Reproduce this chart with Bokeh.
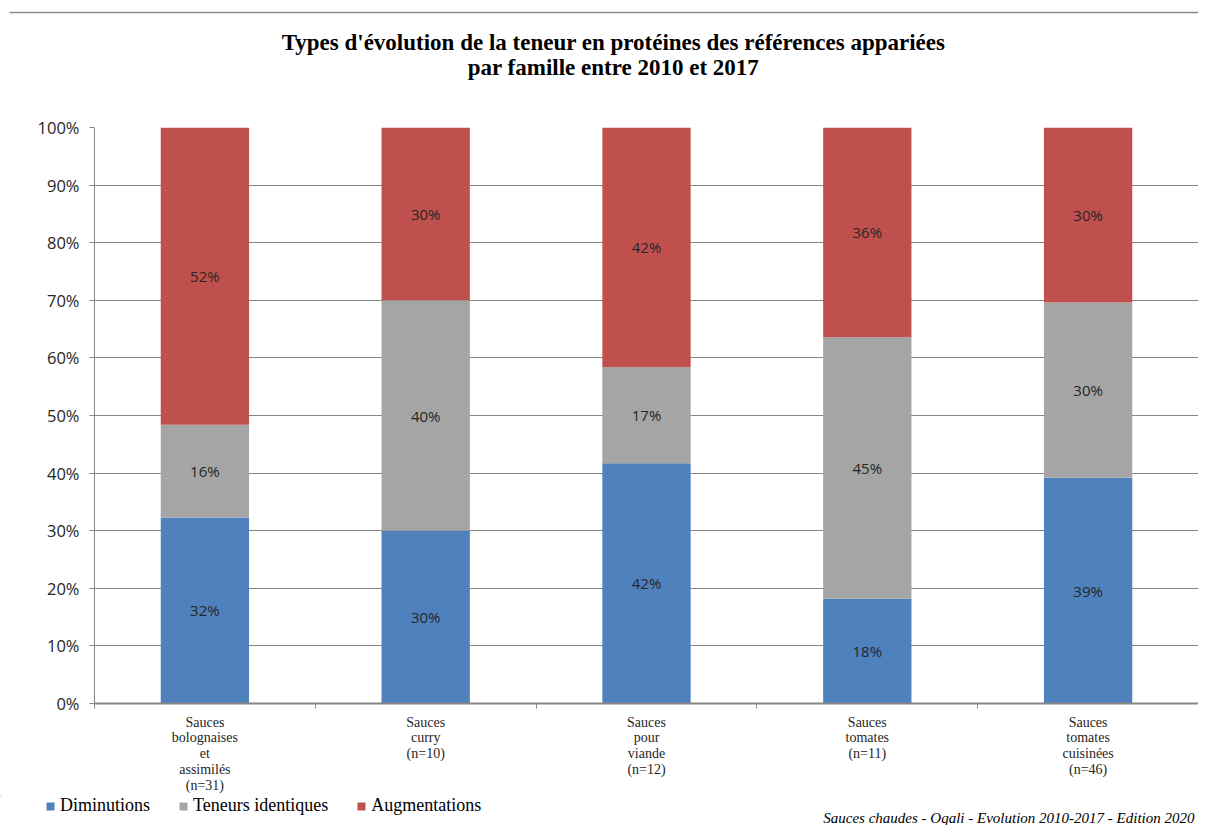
from bokeh.plotting import figure
from bokeh.models import (ColumnDataSource, FixedTicker, PrintfTickFormatter, Legend,
                          LegendItem, Label, Range1d)
from bokeh.layouts import column
from bokeh.core.properties import value
from bokeh.embed import file_html
from bokeh.resources import INLINE

# ---- data ----
categories = [
    "Sauces\nbolognaises\net\nassimilés\n(n=31)",
    "Sauces\ncurry\n(n=10)",
    "Sauces\npour\nviande\n(n=12)",
    "Sauces\ntomates\n(n=11)",
    "Sauces\ntomates\ncuisinées\n(n=46)",
]
diminutions = [32.3, 30.0, 41.7, 18.2, 39.2]
identiques = [16.1, 40.0, 16.7, 45.4, 30.4]
augmentations = [51.6, 30.0, 41.6, 36.4, 30.4]
series_names = ["Diminutions", "Teneurs identiques", "Augmentations"]
colors = ["#4F81BD", "#A5A5A5", "#C0504D"]
y_ticks = [0, 10, 20, 30, 40, 50, 60, 70, 80, 90, 100]
title_lines = ["Types d'évolution de la teneur en protéines des références appariées",
               "par famille entre 2010 et 2017"]
footer_text = "Sauces chaudes - Oqali - Evolution 2010-2017 - Edition 2020"

W = 1198
grey = "#868686"


def blank_fig(h):
    f = figure(width=W, height=h, output_backend="svg", toolbar_location=None,
               x_range=Range1d(0, W), y_range=Range1d(h, 0),
               min_border=0, min_border_left=0, min_border_right=0,
               min_border_top=0, min_border_bottom=0, frame_align=False)
    f.axis.visible = False
    f.grid.grid_line_color = None
    f.outline_line_color = None
    f.background_fill_color = "white"
    f.border_fill_color = "white"
    return f


# ---- header (title) ----
header = blank_fig(110)
header.segment(x0=[9], y0=[12], x1=[W], y1=[12], line_color="#8c8c8c", line_width=1.5)
for i, line in enumerate(title_lines):
    header.add_layout(Label(x=613, y=42 + 25 * i, text=line, text_align="center",
                            text_baseline="middle", text_font="Liberation Serif",
                            text_font_style="bold", text_font_size="23px",
                            text_color="#000000"))

# ---- main chart ----
xs = list(range(1, len(categories) + 1))
src = ColumnDataSource(dict(x=xs, dim=diminutions, ten=identiques, aug=augmentations))

p = figure(width=W, height=684, output_backend="svg", toolbar_location=None,
           x_range=Range1d(0.5, len(categories) + 0.5), y_range=Range1d(0, 100),
           min_border_left=94, min_border_right=0, min_border_top=17, min_border_bottom=91,
           frame_align=False)
p.frame_width = 1104
p.frame_height = 576
p.outline_line_color = None
p.background_fill_color = "white"
p.border_fill_color = "white"

renderers = p.vbar_stack(["dim", "ten", "aug"], x="x", width=0.4, source=src,
                         color=colors, line_color=None)

lx, ly, lt = [], [], []
for i, x in enumerate(xs):
    base = 0.0
    for arr in (diminutions, identiques, augmentations):
        v = arr[i]
        lx.append(x)
        ly.append(base + v / 2)
        lt.append(f"{v:.0f}%")
        base += v
p.text(x=lx, y=ly, text=lt, text_align="center", text_baseline="middle",
       text_font=value("Open Sans"), text_font_size="15px", text_color="#262626")

p.yaxis.ticker = FixedTicker(ticks=y_ticks)
p.yaxis.formatter = PrintfTickFormatter(format="%d%%")
p.yaxis.major_label_text_font = "Open Sans"
p.yaxis.major_label_text_font_size = "16.5px"
p.yaxis.major_label_text_color = "#262626"
p.yaxis.major_tick_out = 5
p.yaxis.major_tick_in = 0
p.yaxis.minor_tick_out = 0
p.yaxis.minor_tick_in = 0
p.yaxis.axis_line_color = grey
p.yaxis.major_tick_line_color = grey
p.yaxis.major_label_standoff = 10

boundaries = [x - 0.5 for x in xs] + [xs[-1] + 0.5]
p.xaxis.ticker = FixedTicker(ticks=xs, minor_ticks=boundaries)
p.xaxis.major_label_overrides = {x: c for x, c in zip(xs, categories)}
p.xaxis.major_tick_out = 0
p.xaxis.major_tick_in = 0
p.xaxis.minor_tick_out = 5
p.xaxis.minor_tick_in = 0
p.xaxis.minor_tick_line_color = grey
p.xaxis.axis_line_color = grey
p.xaxis.axis_line_width = 2
p.xaxis.major_label_text_font = "Liberation Serif"
p.xaxis.major_label_text_font_size = "14px"
p.xaxis.major_label_text_color = "#262626"
p.xaxis.major_label_text_line_height = 1.05
p.xaxis.major_label_standoff = 6

p.xgrid.grid_line_color = None
p.ygrid.grid_line_color = grey
p.ygrid.grid_line_width = 1

# ---- footer (legend + source) ----
foot = blank_fig(30)
# legend swatches only (kept outside the visible range of this strip)
legend_renderers = [foot.vbar(x=[-100], top=[1], bottom=[0], width=1, color=c, line_color=None)
                    for c in colors]
items = [LegendItem(label=n, renderers=[r]) for n, r in zip(series_names, legend_renderers)]
legend = Legend(items=items, orientation="horizontal", location=(45, 9),
                glyph_width=10, glyph_height=10, label_standoff=5, spacing=28,
                padding=0, margin=0, border_line_color=None, background_fill_alpha=0,
                label_height=16, label_text_baseline="middle",
                label_text_font="Liberation Serif", label_text_font_size="18px",
                label_text_color="#000000")
foot.add_layout(legend, "center")
foot.add_layout(Label(x=1194, y=22, text=footer_text, text_align="right",
                      text_baseline="middle", text_font="Liberation Serif",
                      text_font_style="italic", text_font_size="15px",
                      text_color="#000000"))

layout = column(header, p, foot, spacing=0)
open("out.html", "w").write(file_html(layout, INLINE))
